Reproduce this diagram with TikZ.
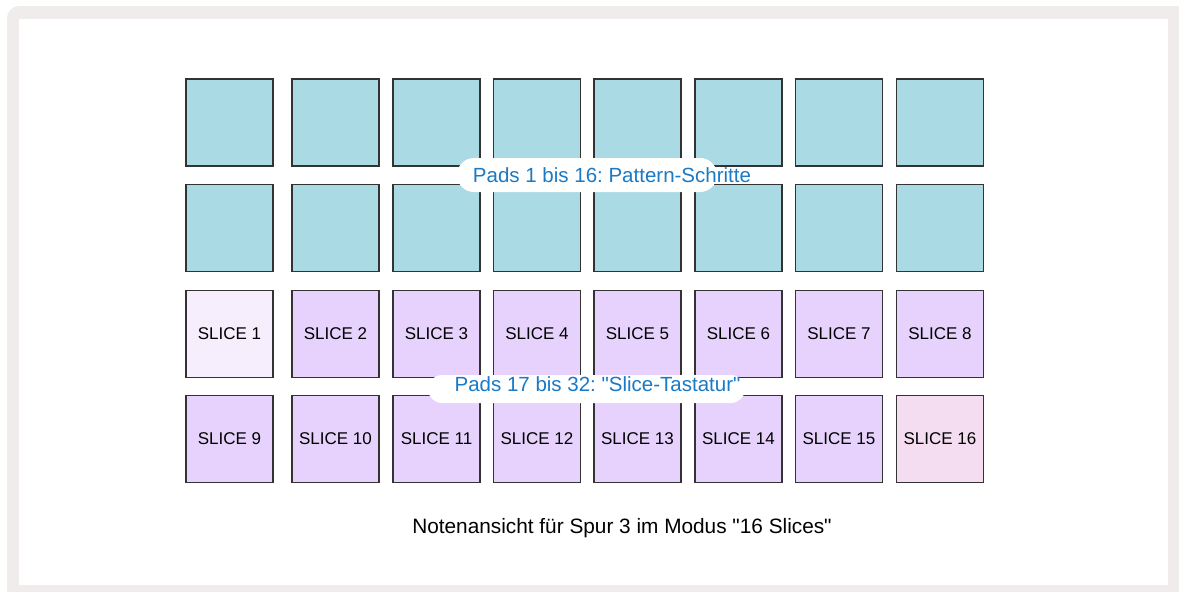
\documentclass[tikz,border=0pt]{standalone}
\usepackage{fontspec}
\setmainfont{Liberation Sans}
\usepackage{xcolor}
\frenchspacing

\definecolor{padblue}{HTML}{AADAE4}
\definecolor{slicelilac}{HTML}{E6D2FC}
\definecolor{slicefirst}{HTML}{F6EEFD}
\definecolor{slicelast}{HTML}{F5DDF1}
\definecolor{padline}{HTML}{333333}
\definecolor{framegrey}{HTML}{EFECEB}
\definecolor{labelblue}{HTML}{1A7AC5}

\begin{document}
\begin{tikzpicture}[
        x=1pt, y=-1pt,
        pad/.style={draw=padline, line width=1.3pt, minimum size=87.1pt, inner sep=0pt},
        stepbox/.style={pad, fill=padblue},
        slicebox/.style={pad, fill=slicelilac, font=\fontsize{17}{20}\selectfont},
        pill/.style={fill=white, inner sep=0pt},
        lbl/.style={text=labelblue, anchor=base, font=\fontsize{20.5}{24}\selectfont}
      ]
        % frame
        \useasboundingbox (0,0) rectangle (1179,592);
        \begin{scope}
          \clip (0,0) rectangle (1179,592);
          \fill[framegrey, rounded corners=12pt] (7,6) rectangle (1192,604);
        \end{scope}
        \fill[white] (19,19) rectangle (1168,585);

        % pattern steps (rows 1 and 2)
        \foreach \x [count=\c] in {229.5,335.5,436.5,537,637.5,738.5,839,940} {
          \node[stepbox] (padA\c) at (\x,122.5) {};
          \node[stepbox] (padB\c) at (\x,227.7) {};
        }

        % slice keyboard (rows 3 and 4)
        \node[slicebox, fill=slicefirst] (slice1) at (229.5,334) {SLICE 1};
        \node[slicebox] (slice2) at (335.5,334) {SLICE 2};
        \node[slicebox] (slice3) at (436.5,334) {SLICE 3};
        \node[slicebox] (slice4) at (537,334) {SLICE 4};
        \node[slicebox] (slice5) at (637.5,334) {SLICE 5};
        \node[slicebox] (slice6) at (738.5,334) {SLICE 6};
        \node[slicebox] (slice7) at (839,334) {SLICE 7};
        \node[slicebox] (slice8) at (940,334) {SLICE 8};
        \node[slicebox] (slice9) at (229.5,439) {SLICE 9};
        \node[slicebox] (slice10) at (335.5,439) {SLICE 10};
        \node[slicebox] (slice11) at (436.5,439) {SLICE 11};
        \node[slicebox] (slice12) at (537,439) {SLICE 12};
        \node[slicebox] (slice13) at (637.5,439) {SLICE 13};
        \node[slicebox] (slice14) at (738.5,439) {SLICE 14};
        \node[slicebox] (slice15) at (839,439) {SLICE 15};
        \node[slicebox, fill=slicelast] (slice16) at (940,439) {SLICE 16};

        % labels on white pills
        \node[pill, minimum width=260pt, minimum height=34pt, rounded corners=17pt] (pillA) at (587,175) {};
        \node[lbl] (lblA) at (612,182) {Pads 1 bis 16: Pattern-Schritte};
        \node[pill, minimum width=317pt, minimum height=28pt, rounded corners=14pt] (pillB) at (586.5,389) {};
        \node[lbl] (lblB) at (597.5,391.5) {Pads 17 bis 32: \textquotedbl Slice-Tastatur\textquotedbl};

        \node[anchor=base, font=\fontsize{20.8}{24}\selectfont] (caption) at (622,533) {Notenansicht für Spur 3 im Modus \textquotedbl 16 Slices\textquotedbl};
    \end{tikzpicture}
\end{document}
